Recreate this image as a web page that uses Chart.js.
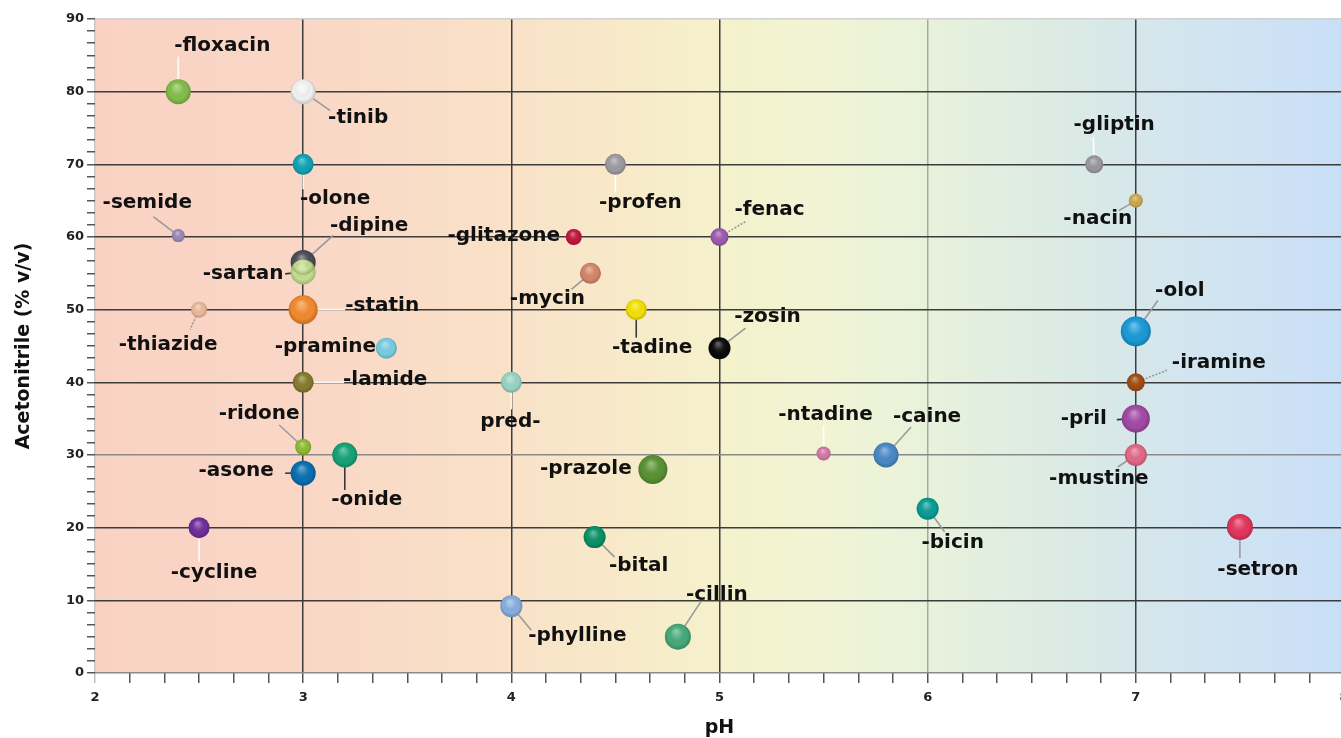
<!DOCTYPE html>
<html><head><meta charset="utf-8">
<script src="https://cdn.jsdelivr.net/npm/chart.js@4"></script>
<style>html,body{margin:0;padding:0;overflow:hidden;background:#fff}#wrap{width:1359px;height:738px}</style>
</head><body><div id="wrap"><canvas id="c" width="1359" height="738" style="width:1359px;height:738px"></canvas></div>
<script>
// ---- data ----
const drugNames = ['-floxacin','-tinib','-olone','-semide','-dipine','-sartan','-statin','-thiazide','-pramine','-lamide','-ridone','-asone','-onide','-cycline','-glitazone','-profen','-fenac','-mycin','-tadine','-zosin','pred-','-prazole','-phylline','-bital','-cillin','-ntadine','-caine','-bicin','-gliptin','-nacin','-olol','-iramine','-pril','-mustine','-setron'];
const phValues = [2.4,3.0,3.0,2.4,3.0,3.0,3.0,2.5,3.4,3.0,3.0,3.0,3.2,2.5,4.3,4.5,5.0,4.38,4.6,5.0,4.0,4.68,4.0,4.4,4.8,5.5,5.8,6.0,6.8,7.0,7.0,7.0,7.0,7.0,7.5];
const acnValues = [80,80,70,60.2,56.5,55.2,50,50,44.7,40,31.1,27.5,30,20,60,70,60,55,50,44.7,40,28,9.2,18.7,5,30.2,30,22.6,70,65,47,40,35,30,20.1];
const bubbleRadius = [12.5,12.5,10.5,6.5,12.5,12.5,14.5,8,10.5,10.5,8,12.5,12.5,10.5,8,10.5,9,10.5,10.5,11,10.5,14.5,11,11,13,7,12.5,11,9,7,15,9,14,11,13];
const phTicks = [2,3,4,5,6,7,8];
const acnTicks = [0,10,20,30,40,50,60,70,80,90];

// ---- styles ----
const bubbleColors = ['#84bd4a','#f2f2f2','#0fa3b5','#9a86b8','#4b4d57','#c6df8c','#f28a2e','#e9b99c','#78cde0','#857a2c','#8ebb2e','#0a6fb0','#15a377','#6f2f9a','#c0163f','#9c9b9f','#9a5bb0','#d4866a','#f2e104','#0a0a0a','#98d4c4','#5a9234','#86aee0','#0a9166','#46aa7a','#d477a8','#4a89c6','#0a9c96','#9a97a0','#c9a84e','#1a9ad8','#a24c14','#a24aa6','#e36887','#e2355c'];
const labelOffsets = [[44,-46],[55,26],[32,34],[-31,-33],[66,-37],[-60,2],[79,-4],[-31,35],[-61,-1],[82,-3],[-44,-33],[-67,-2],[22,45],[15,45],[-70,-1],[25,38],[50,-27],[-43,25],[16,38],[48,-31],[-1,39],[-67,-1],[66,30],[44,29],[39,-42],[2,-39],[41,-38],[25,34],[20,-40],[-38,18],[44,-41],[83,-20],[-52,0],[-37,24],[18,43]];
const leaderEnds = [[0,-35],[27,19],[0,25],[-25,-19],[30,-27],[-18,2],[42,0],[-9,20],null,[41,0],[-24,-22],[-18,0],[0,35],[0,34],null,[0,28],[27,-16],[-19,16],[0,28],[26,-20],[0,27],[-13,0],[20,24],[20,20],[23,-35],[0,-28],[25,-28],[17,23],[-1,-27],[-17,10],[22,-31],[31,-12],[-19,1],[-18,12],[0,31]];
const leaderStyle = ['w','g','w','g','g','d','w','gd',null,'w','g','d','d','w',null,'w','gd','g','d','g','w','g','g','g','g','w','g','g','w','g','g','gd','d','g','g'];

const FONT = "'DejaVu Sans', 'Noto Sans', sans-serif";

function subTicks(major){ const out=[]; for(let i=0;i<major.length;i++){ out.push(major[i]); if(i<major.length-1){ const step=(major[i+1]-major[i])/6; for(let k=1;k<6;k++) out.push(major[i]+step*k);} } return out; }
const isMajor = v => Math.abs(v-Math.round(v))<1e-6;

const bgPlugin = { id:'bg', beforeDraw(chart){ const {ctx, chartArea:a} = chart; const g = ctx.createLinearGradient(a.left,0,a.right,0);
  const stops=[[0,'#f9d2c4'],[1/6,'#f9d7c6'],[2/6,'#f9e2c8'],[2.5/6,'#f8e9c9'],[3/6,'#f5f1cc'],[3.5/6,'#f1f4d4'],[4/6,'#e8f2db'],[4.5/6,'#deece2'],[5/6,'#d6e7eb'],[5.5/6,'#cfe3f2'],[1,'#c9dff7']];
  stops.forEach(s=>g.addColorStop(s[0],s[1])); ctx.save(); ctx.fillStyle=g; ctx.fillRect(a.left,a.top,a.right-a.left,a.bottom-a.top); ctx.restore(); } };

const leaderPlugin = { id:'leaders', beforeDatasetsDraw(chart){ const ctx=chart.ctx; const meta=chart.getDatasetMeta(0); ctx.save();
  meta.data.forEach((el,i)=>{ const e=leaderEnds[i]; if(!e) return; const st=leaderStyle[i];
    ctx.beginPath(); ctx.moveTo(el.x,el.y); ctx.lineTo(el.x+e[0], el.y+e[1]);
    ctx.lineWidth=1.6; ctx.setLineDash(st==='gd'?[2,1.5]:[]);
    ctx.strokeStyle = st==='w' ? 'rgba(255,255,255,0.95)' : st==='d' ? '#3a3a3a' : '#9a9a9a'; ctx.stroke(); });
  ctx.restore(); } };

const shadeLabelPlugin = { id:'shadeLabels', afterDatasetsDraw(chart){ const ctx=chart.ctx; const meta=chart.getDatasetMeta(0); ctx.save();
  meta.data.forEach((el,i)=>{ const r=el.options.radius; const x=el.x,y=el.y;
    const g=ctx.createRadialGradient(x-0.15*r,y-0.45*r,0,x,y,r*1.05);
    g.addColorStop(0,'rgba(255,255,255,0.42)'); g.addColorStop(0.35,'rgba(255,255,255,0.12)'); g.addColorStop(0.7,'rgba(0,0,0,0)'); g.addColorStop(1,'rgba(0,0,0,0.22)');
    ctx.beginPath(); ctx.arc(x,y,r,0,Math.PI*2); ctx.fillStyle=g; ctx.fill(); });
  ctx.font = "bold 20px "+FONT; ctx.fillStyle='#111'; ctx.textAlign='center'; ctx.textBaseline='middle';
  meta.data.forEach((el,i)=>{ const o=labelOffsets[i]; ctx.fillText(drugNames[i], el.x+o[0], el.y+o[1]); });
  ctx.restore(); } };

const points = drugNames.map((n,i)=>({x:phValues[i], y:acnValues[i], r:bubbleRadius[i]}));

new Chart(document.getElementById('c'), {
  type:'bubble',
  data:{ datasets:[{ data:points, backgroundColor:bubbleColors, borderWidth:0, hoverBorderWidth:0, hoverRadius:0, clip:false }] },
  options:{
    responsive:false, animation:false, devicePixelRatio:1, events:[],
    layout:{padding:{top:19,right:0,left:0,bottom:0}},
    plugins:{legend:{display:false}, tooltip:{enabled:false}},
    scales:{
      x:{ type:'linear', min:2, max:8,
        afterBuildTicks: s=>{ s.ticks = subTicks(phTicks).map(v=>({value:v})); },
        afterFit: s=>{ s.height=65; s.paddingRight=0; s.paddingLeft=0; },
        ticks:{ autoSkip:false, maxRotation:0, minRotation:0, padding:7, color:'#222', font:{family:FONT, size:13, weight:'bold'},
          callback: v => isMajor(v) ? String(Math.round(v)) : '' },
        grid:{ lineWidth:1.5, tickLength:10, drawOnChartArea:true,
          color: c => { const v=c.tick.value; if(!isMajor(v)) return 'rgba(0,0,0,0)'; const r=Math.round(v); if(r===2) return '#c8c8c8'; if(r===6) return '#a8a8a8'; return '#3c3c3c'; },
          tickColor: c => { const v=c.tick.value; return Math.abs(v-2)<1e-6 ? '#c0c0c0' : '#555'; } },
        border:{display:false},
        title:{display:true, text:'pH', color:'#111', font:{family:FONT, size:19, weight:'bold', lineHeight:1}, padding:{top:0,bottom:0}}
      },
      y:{ type:'linear', min:0, max:90,
        afterBuildTicks: s=>{ s.ticks = subTicks(acnTicks).map(v=>({value:v})); },
        afterFit: s=>{ s.width=95; s.paddingTop=0; s.paddingBottom=0; },
        ticks:{ autoSkip:false, padding:3, color:'#222', font:{family:FONT, size:13, weight:'bold'},
          callback: v => (isMajor(v) && Math.round(v)%10===0) ? String(Math.round(v)) : '' },
        grid:{ lineWidth:1.5, tickLength:8, drawOnChartArea:true,
          color: c => { const v=c.tick.value; if(!(isMajor(v) && Math.round(v)%10===0)) return 'rgba(0,0,0,0)'; const r=Math.round(v); if(r===90) return '#d0d0d0'; if(r===0) return '#8a8a8a'; if(r===30) return '#8a8a8a'; return '#3c3c3c'; },
          tickColor:'#555' },
        border:{display:false},
        title:{display:true, text:'Acetonitrile (% v/v)', color:'#111', font:{family:FONT, size:19, weight:'bold', lineHeight:1}, padding:{top:15,bottom:0}}
      }
    }
  },
  plugins:[bgPlugin, leaderPlugin, shadeLabelPlugin]
});
</script></body></html>
